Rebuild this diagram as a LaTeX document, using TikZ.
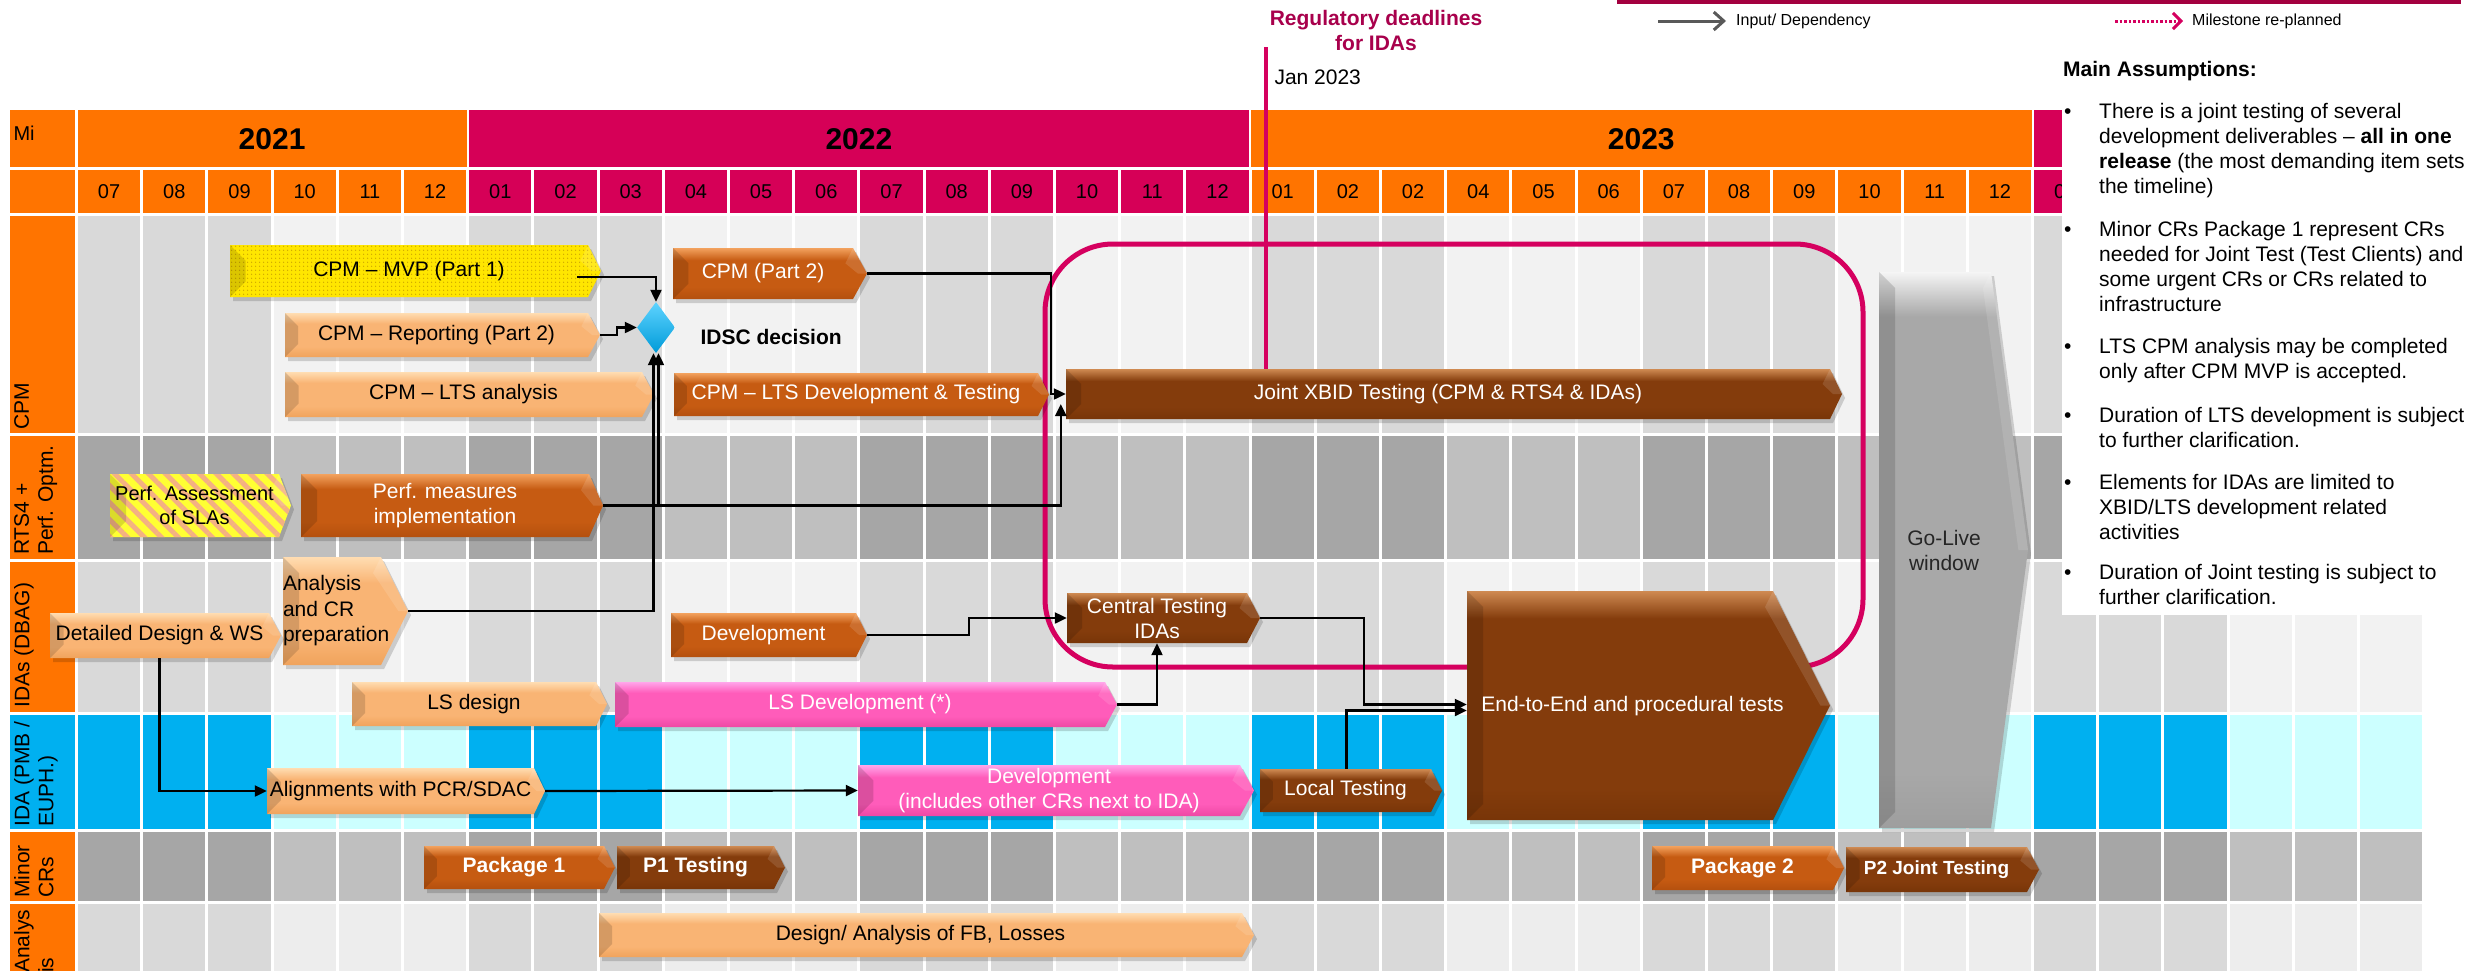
\documentclass[tikz,border=0pt]{standalone}
\usepackage{fontspec}
\setmainfont{Liberation Sans}
\usetikzlibrary{arrows.meta,calc,shapes.geometric,patterns.meta}

\definecolor{hdrorange}{HTML}{FF7400}
\definecolor{hdrpink}{HTML}{D60057}
\definecolor{regpink}{HTML}{D5005F}
\definecolor{regtext}{HTML}{A8004C}
\definecolor{legline}{HTML}{A3003F}
\definecolor{gA}{HTML}{D9D9D9}
\definecolor{gB}{HTML}{F2F2F2}
\definecolor{gC}{HTML}{A6A6A6}
\definecolor{gD}{HTML}{BFBFBF}
\definecolor{bA}{HTML}{00B0F0}
\definecolor{bB}{HTML}{CCFFFF}
\definecolor{aB}{HTML}{EDEDED}
\definecolor{dOrT}{HTML}{F3A25E}
\definecolor{dOrM}{HTML}{C65B12}
\definecolor{dOrB}{HTML}{B4500E}
\definecolor{lOrT}{HTML}{FFDDB2}
\definecolor{lOrM}{HTML}{F9B474}
\definecolor{lOrB}{HTML}{F0A35C}
\definecolor{brT}{HTML}{CF8A52}
\definecolor{brM}{HTML}{843C0C}
\definecolor{brB}{HTML}{783508}
\definecolor{pkT}{HTML}{FFA6EA}
\definecolor{pkM}{HTML}{FF5CBA}
\definecolor{pkB}{HTML}{EE48A4}
\definecolor{glT}{HTML}{F5F5F5}
\definecolor{glM}{HTML}{A8A8A8}
\definecolor{glB}{HTML}{9E9E9E}
\definecolor{mvpY}{HTML}{FFE600}
\definecolor{mvpD}{HTML}{CFA900}
\definecolor{perfY}{HTML}{FFFF33}
\definecolor{stripe}{HTML}{F4B183}
\definecolor{diaT}{HTML}{5ED3FF}
\definecolor{diaB}{HTML}{009BD9}
\definecolor{legarrow}{HTML}{595959}
\definecolor{gotext}{HTML}{262626}

\pgfdeclareverticalshading{shDOr}{100bp}{color(0bp)=(dOrB); color(25bp)=(dOrB); color(37bp)=(dOrM); color(63bp)=(dOrM); color(75bp)=(dOrT); color(100bp)=(dOrT)}
\pgfdeclareverticalshading{shLOr}{100bp}{color(0bp)=(lOrB); color(25bp)=(lOrB); color(37bp)=(lOrM); color(63bp)=(lOrM); color(75bp)=(lOrT); color(100bp)=(lOrT)}
\pgfdeclareverticalshading{shBr}{100bp}{color(0bp)=(brB); color(25bp)=(brB); color(37bp)=(brM); color(63bp)=(brM); color(75bp)=(brT); color(100bp)=(brT)}
\pgfdeclareverticalshading{shBrT}{100bp}{color(0bp)=(brB); color(25bp)=(brB); color(32bp)=(brM); color(69bp)=(brM); color(75bp)=(brT); color(100bp)=(brT)}
\pgfdeclareverticalshading{shPk}{100bp}{color(0bp)=(pkB); color(25bp)=(pkB); color(37bp)=(pkM); color(63bp)=(pkM); color(75bp)=(pkT); color(100bp)=(pkT)}
\pgfdeclareverticalshading{shGl}{100bp}{color(0bp)=(glB); color(25bp)=(glB); color(30bp)=(glM); color(71bp)=(glM); color(75bp)=(glT); color(100bp)=(glT)}

\newcommand\barfont{\fontsize{21}{25}\selectfont}

\tikzset{
  conn/.style={draw=black, line width=2.2pt, -{Triangle[length=12pt,width=11pt]}},
  tw/.style={text=white, font=\barfont, align=center},
  twb/.style={text=white, font=\barfont\bfseries, align=center},
  tb/.style={text=black, font=\barfont, align=center},
  tg/.style={text=gotext, font=\barfont, align=center},
  dor/.style={shade, shading=shDOr},
  lor/.style={shade, shading=shLOr},
  brn/.style={shade, shading=shBr},
  brnT/.style={shade, shading=shBrT},
  pnk/.style={shade, shading=shPk},
  glv/.style={shade, shading=shGl},
  mvpf/.style={fill=mvpY, postaction={pattern={Dots[distance=4pt,radius=0.9pt]}, pattern color=mvpD}},
  perfaf/.style={fill=perfY, postaction={pattern={Lines[angle=-45,distance=12pt,line width=5pt]}, pattern color=stripe}},
  rowlab/.style={rotate=90, anchor=north west, align=left, inner sep=0pt, font=\fontsize{21}{24}\selectfont, text=black},
  monthtxt/.style={font=\fontsize{20}{22}\selectfont, text=black},
  yeartxt/.style={font=\fontsize{30}{32}\selectfont\bfseries, text=black},
  asm/.style={font=\fontsize{21}{25}\selectfont, text=black, inner sep=0pt},
  legtxt/.style={font=\fontsize{16}{18}\selectfont, text=black, inner sep=0pt},
}

% grid row: y1 y2 darkcolor lightcolor labelcolor
\newcommand\gridrow[5]{%
  \foreach \q in {0,2,...,10}{\foreach \m in {0,1,2}{%
    \fill[#3] ({76.5+65.2*(3*\q+\m)+1.5},{#1+1.5}) rectangle ({76.5+65.2*(3*\q+\m+1)-1.5},{#2-1.5});}}%
  \foreach \q in {1,3,...,11}{\foreach \m in {0,1,2}{%
    \fill[#4] ({76.5+65.2*(3*\q+\m)+1.5},{#1+1.5}) rectangle ({76.5+65.2*(3*\q+\m+1)-1.5},{#2-1.5});}}%
  \fill[#5] (9.5,{#1+1.5}) rectangle (75,{#2-1.5});%
}

% task bar: name, fill style, x1, y1, xtip, y2, tip depth, text options, text
\newcommand\taskbar[9]{%
  \pgfmathsetmacro\tbb{min(0.3*(#6-#4),16)}%
  \pgfmathsetmacro\tbm{(#4+#6)/2}%
  \pgfmathsetmacro\tbx{#5-#7}%
  \fill[black,opacity=.16,shift={(3,4)}] (#3,#4) -- (\tbx,#4) -- (#5,\tbm) -- (\tbx,#6) -- (#3,#6) -- cycle;
  \path[#2] (#3,#4) -- (\tbx,#4) -- (#5,\tbm) -- (\tbx,#6) -- (#3,#6) -- cycle;
  \fill[black,opacity=.14] (#3,#4) -- ({#3+\tbb},{#4+\tbb}) -- ({#3+\tbb},{#6-\tbb}) -- (#3,#6) -- cycle;
  \fill[white,opacity=.12] (\tbx,#4) -- (#5,\tbm) -- ({#5-0.6*\tbb},\tbm) -- ({\tbx-0.5*\tbb},{#4+\tbb}) -- cycle;
  \coordinate (#1-tip) at (#5,\tbm);
  \node[inner sep=0pt, minimum width={(\tbx-#3)*1pt}, minimum height={(#6-#4)*1pt}, #8] (#1) at ({(#3+\tbx)/2},\tbm) {#9};
}

\begin{document}
\begin{tikzpicture}[x=1pt,y=-1pt]
\useasboundingbox (0,0) rectangle (2468,970);
\clip (0,0) rectangle (2468,970);
\fill[white] (0,0) rectangle (2468,970);

% ---------- header ----------
\fill[hdrorange] (9.5,110) rectangle (75,167);
\node[monthtxt, anchor=west] (mi) at (10,133) {Mi};
\fill[hdrorange] ({76.5+1.5},110) rectangle ({76.5+65.2*6-1},167);
\fill[hdrpink] ({76.5+65.2*6+1},110) rectangle ({76.5+65.2*18-1},167);
\fill[hdrorange] ({76.5+65.2*18+1},110) rectangle ({76.5+65.2*30-1},167);
\fill[hdrpink] ({76.5+65.2*30+1},110) rectangle ({76.5+65.2*36-1.5},167);
\node[yeartxt] (y2021) at ({76.5+65.2*3},139) {2021};
\node[yeartxt] (y2022) at ({76.5+65.2*12},139) {2022};
\node[yeartxt] (y2023) at ({76.5+65.2*24},139) {2023};

\fill[hdrorange] (9.5,170) rectangle (75,213);
\foreach \i in {0,...,5}{\fill[hdrorange] ({76.5+65.2*\i+1.5},170) rectangle ({76.5+65.2*(\i+1)-1.5},213);}
\foreach \i in {6,...,17}{\fill[hdrpink] ({76.5+65.2*\i+1.5},170) rectangle ({76.5+65.2*(\i+1)-1.5},213);}
\foreach \i in {18,...,29}{\fill[hdrorange] ({76.5+65.2*\i+1.5},170) rectangle ({76.5+65.2*(\i+1)-1.5},213);}
\foreach \i in {30,...,35}{\fill[hdrpink] ({76.5+65.2*\i+1.5},170) rectangle ({76.5+65.2*(\i+1)-1.5},213);}
\foreach \lab [count=\i from 0] in {07,08,09,10,11,12,01,02,03,04,05,06,07,08,09,10,11,12,01,02,02,04,05,06,07,08,09,10,11,12,01}{
  \node[monthtxt] (mon\i) at ({76.5+65.2*(\i+0.5)},192) {\lab};}

% ---------- grid rows ----------
\gridrow{214}{434.5}{gA}{gB}{hdrorange}
\gridrow{434.5}{560.5}{gC}{gD}{hdrorange}
\gridrow{560.5}{713.5}{gA}{gB}{hdrorange}
\gridrow{713.5}{830.5}{bA}{bB}{bA}
\gridrow{830.5}{902.5}{gC}{gD}{hdrorange}
\gridrow{902.5}{990}{gA}{aB}{hdrorange}

\node[rowlab] (lcpm) at (14,430) {CPM};
\node[rowlab] (lrts) at (14,555) {RTS4 +\\Perf. Optm.};
\node[rowlab] (lidas) at (14,708) {IDAs (DBAG)};
\node[rowlab] (lida) at (14,827) {IDA (PMB /\\EUPH.)};
\node[rowlab] (lmin) at (14,898) {Minor\\CRs};
\node[rowlab] (lana) at (14,973) {Analys\\is};

% ---------- legend ----------
\draw[legline, line width=4pt] (1617,1.5) -- (2461,1.5);
\node[legtxt, anchor=west] (leg1) at (1736,21) {Input/ Dependency};
\coordinate (la1) at (1658,21);
\draw[legarrow, line width=3pt, -{Straight Barb[length=10pt,width=18pt,line width=3pt]}] (la1) -- ([xshift=-10pt]leg1.west);
\node[legtxt, anchor=west] (leg2) at (2192,21) {Milestone re-planned};
\coordinate (la2) at (2115,21);
\draw[regpink, line width=3pt, dash pattern=on 2.5pt off 2pt, -{Straight Barb[length=8pt,width=16pt,line width=3pt]}] (la2) -- ([xshift=-9pt]leg2.west);

% ---------- assumptions box ----------
\fill[white] (2062,95) rectangle (2470,615);
\node[asm, font=\fontsize{21}{25}\selectfont\bfseries, anchor=base west] (mainas) at (2063,76) {Main Assumptions:};
\foreach \yy [count=\k] in {111,229,346,415,482,572}{
  \node[asm, anchor=base west] (bul\k) at (2064,\yy+7.5) {•};}
\foreach \yy/\txt [count=\k] in {
  111/{There is a joint testing of several},
  136/{development deliverables – \textbf{all in one}},
  161/{\textbf{release} (the most demanding item sets},
  186/{the timeline)},
  229/{Minor CRs Package 1 represent CRs},
  254/{needed for Joint Test (Test Clients) and},
  279/{some urgent CRs or CRs related to},
  304/{infrastructure},
  346/{LTS CPM analysis may be completed},
  371/{only after CPM MVP is accepted.},
  415/{Duration of LTS development is subject},
  440/{to further clarification.},
  482/{Elements for IDAs are limited to},
  507/{XBID/LTS development related},
  532/{activities},
  572/{Duration of Joint testing is subject to},
  597/{further clarification.}}{
  \node[asm, anchor=base west] (as\k) at (2099,\yy+7.5) {\txt};}

% ---------- regulatory deadline ----------
\node[font=\fontsize{21}{25}\selectfont\bfseries, text=regtext, align=center] (regt) at (1376,30) {Regulatory deadlines\\for IDAs};
\node[font=\fontsize{21}{25}\selectfont, anchor=west] (jan23) at (1271,77) {Jan 2023};
\draw[regpink, line width=5pt, rounded corners=68pt] (1045,244) rectangle (1863,667);

% ---------- task bars ----------
\taskbar{mvp}{mvpf}{230}{245}{601}{297}{13}{tb}{CPM – MVP (Part 1)}
\taskbar{rep}{lor}{285}{313}{600}{357}{12}{tb}{CPM – Reporting (Part 2)}
\taskbar{ltsa}{lor}{285}{372}{654}{417}{12}{tb}{CPM – LTS analysis}
\taskbar{p2}{dor}{673}{248}{867}{299}{14}{tw}{CPM (Part 2)}
\taskbar{ltsd}{dor}{674}{373}{1049}{416}{11}{tw}{CPM – LTS Development \& Testing}
\coordinate (regline) at (1266,47);
\draw[regpink, line width=4pt] (regline) -- (1266,369);
\taskbar{joint}{brn}{1066}{369}{1842}{419}{12}{tw}{Joint XBID Testing (CPM \& RTS4 \& IDAs)}
\taskbar{perfa}{perfaf}{110}{474}{291}{537}{12}{tb,font=\fontsize{20}{24}\selectfont}{Perf. Assessment\\of SLAs}
\taskbar{perfm}{dor}{301}{474}{603}{537}{14}{tw}{Perf. measures\\implementation}
\taskbar{anl}{lor}{283}{557}{408}{665}{27}{}{}
\node[tb, align=left, anchor=west, inner sep=0pt, font=\fontsize{21}{25.5}\selectfont] (anltext) at (anl.west) {Analysis\\and CR\\preparation};
\taskbar{dd}{lor}{50}{613}{281}{658}{12}{tb}{Detailed Design \& WS}
\taskbar{devi}{dor}{671}{613}{867}{657}{11}{tw}{Development}
\taskbar{central}{brn}{1067}{593}{1260}{643}{13}{tw}{Central Testing\\IDAs}
\taskbar{lsd}{lor}{352}{682}{607}{726}{11}{tb}{LS design}
\taskbar{lsdev}{pnk}{615}{682}{1117}{727}{12}{tw}{LS Development (*)}
\taskbar{align}{lor}{267}{768}{545}{814}{11}{tb}{Alignments with PCR/SDAC}
\taskbar{devp}{pnk}{858}{765}{1254}{816}{14}{tw}{Development\\(includes other CRs next to IDA)}
\taskbar{local}{brn}{1260}{769}{1442}{812}{11}{tw}{Local Testing}
\taskbar{e2e}{brnT}{1467}{591}{1830}{820}{57}{}{}
\node[tw, anchor=west] (e2etext) at ($(e2e.west)+(11,1)$) {End-to-End and procedural tests};
\taskbar{golive}{glv}{1879}{272}{2028}{828}{37}{tg,xshift=9pt}{Go-Live\\window}
\taskbar{pkg1}{dor}{424}{846}{615}{889}{11}{twb}{Package 1}
\taskbar{p1t}{brn}{617}{846}{785}{889}{11}{twb}{P1 Testing}
\taskbar{pkg2}{dor}{1652}{846}{1844}{890}{11}{twb}{Package 2}
\taskbar{p2t}{brn}{1846}{847}{2039}{892}{12}{twb,font=\fontsize{19}{22}\selectfont\bfseries}{P2 Joint Testing}
\taskbar{fb}{lor}{599}{913}{1254}{957}{12}{tb}{Design/ Analysis of FB, Losses}

% ---------- milestone ----------
\node[diamond, inner sep=0pt, minimum width=38pt, minimum height=51pt, top color=diaT, bottom color=diaB, draw=none] (idsc) at (656,327.5) {};
\node[font=\fontsize{21}{25}\selectfont\bfseries, anchor=west] (idsct) at (697,337) {IDSC decision};

% ---------- connectors ----------
\draw[conn] ([shift={(-11,6)}]mvp.east) -| (idsc.north);
\draw[conn] (rep-tip) -- ++(17,0) |- (idsc.west);
\draw[conn] (anl-tip) -| ([xshift=-2.5pt]idsc.south);
\draw[conn] (perfm-tip) -| ([xshift=2.5pt]idsc.south);
\draw[conn] (perfm-tip) -| ($(joint.west)+(-5,10)$);
\draw[conn] (p2-tip) -| ($(joint.west)+(-15,0)$) -- (joint.west);
\draw[conn] (devi-tip) -- ++(102,0) |- (central.west);
\draw[conn] (lsdev-tip) -| (central.south);
\draw[conn] (central-tip) -- ++(104,0) |- ($(e2e.west)+(0,-1)$);
\draw[conn] ($(local.north)+(1,0)$) |- ($(e2e.west)+(0,5)$);
\draw[conn] (dd.south) |- (align.west);
\draw[conn] (align-tip) -- (devp.west);
\end{tikzpicture}
\end{document}
